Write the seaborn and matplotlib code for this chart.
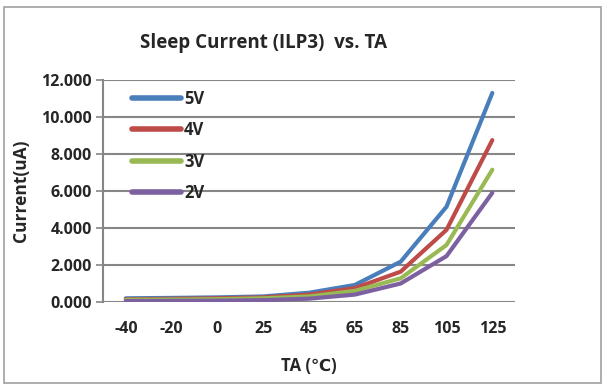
import numpy as np
import pandas as pd
import seaborn as sns
import matplotlib.pyplot as plt
from matplotlib.patches import Rectangle

# Data
temps = ['-40', '-20', '0', '25', '45', '65', '85', '105', '125']
i_5v = [0.20, 0.22, 0.25, 0.30, 0.50, 0.92, 2.18, 5.15, 11.30]
i_4v = [0.15, 0.17, 0.20, 0.25, 0.40, 0.75, 1.64, 3.90, 8.75]
i_3v = [0.12, 0.13, 0.15, 0.20, 0.30, 0.60, 1.28, 3.08, 7.15]
i_2v = [0.05, 0.06, 0.07, 0.10, 0.18, 0.40, 1.00, 2.48, 5.90]
series = ['5V', '4V', '3V', '2V']
colors = ['#4A7EBB', '#BE4B48', '#98B954', '#7D60A0']

df = pd.DataFrame({
    'TA': temps * 4,
    'Current': i_5v + i_4v + i_3v + i_2v,
    'Supply': [s for s in series for _ in temps],
})

sns.set_style('white')
plt.rcParams['font.family'] = ['Open Sans', 'DejaVu Sans']
plt.rcParams['font.weight'] = 'bold'

fig = plt.figure(figsize=(6.09, 3.85), dpi=100)
ax = fig.add_axes([0.169, 0.2156, 0.677, 0.5766])

sns.lineplot(data=df, x='TA', y='Current', hue='Supply', hue_order=series,
             palette=colors, linewidth=3, sort=False, ax=ax)

ax.set_xlim(-0.5, len(temps) - 0.5)
ax.set_ylim(0, 12)
ax.set_yticks(np.arange(0, 13, 2))
ax.set_yticklabels([f'{v:.3f}' for v in np.arange(0, 13, 2)], fontsize=11.5, fontweight='bold')
ax.set_xticks(range(len(temps)))
ax.set_xticklabels(temps, fontsize=11.5, fontweight='bold')
ax.tick_params(axis='x', length=0, pad=14)
ax.tick_params(axis='y', length=5, width=1.2, color='#868686', direction='out', left=True, pad=3)

ax.yaxis.grid(True, color='#868686', linewidth=1.5)
ax.xaxis.grid(False)
ax.set_axisbelow(True)
for side in ['top', 'right', 'bottom']:
    ax.spines[side].set_visible(False)
ax.spines['left'].set_color('#868686')
ax.spines['left'].set_linewidth(1.5)

ax.set_xlabel('TA (℃)', fontsize=12, fontweight='bold', labelpad=14)
ax.set_ylabel('Current(uA)', fontsize=12.5, fontweight='bold', labelpad=8)
fig.text(0.432, 0.888, 'Sleep Current (ILP3)  vs. TA', ha='center', va='center',
         fontsize=13.5, fontweight='bold')

leg = ax.legend(loc='upper left', bbox_to_anchor=(0.055, 0.985), frameon=False,
                fontsize=12, handlelength=2.9, handletextpad=0.2, labelspacing=0.8,
                borderaxespad=0)
for t in leg.get_texts():
    t.set_fontweight('bold')
for h in leg.get_lines():
    h.set_linewidth(4)
    h.set_solid_capstyle('round')

fig.patches.append(Rectangle((0.007, 0.005), 0.98, 0.978, transform=fig.transFigure,
                             fill=False, edgecolor='#A0A0A0', linewidth=1.2))

fig.savefig('out.png', dpi=100)
